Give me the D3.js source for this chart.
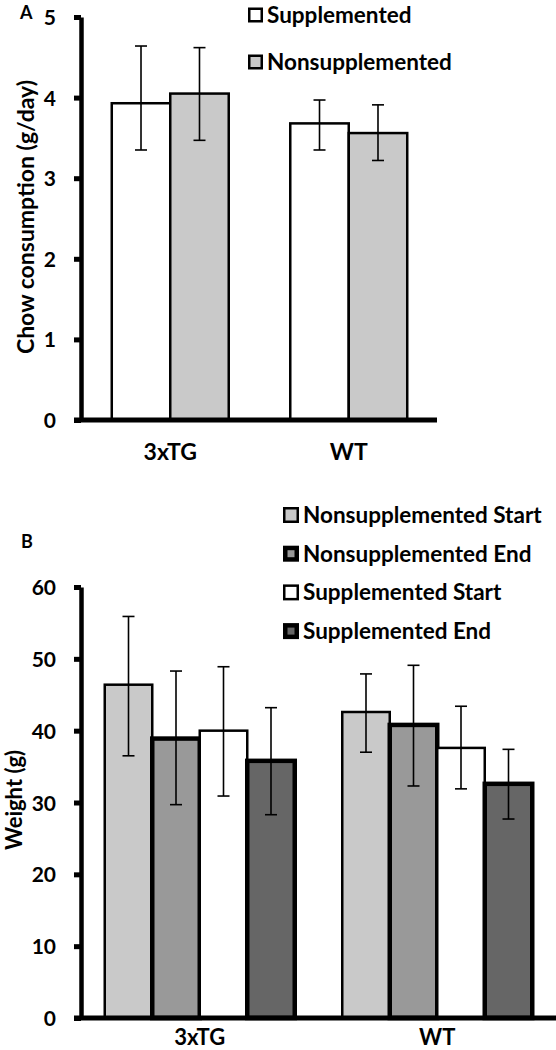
<!DOCTYPE html>
<html><head><meta charset="utf-8">
<script src="https://cdn.jsdelivr.net/npm/d3@7"></script>
<style>
html,body{margin:0;padding:0;background:#fff;}
svg{display:block;}
text{font-family:Lato, "Open Sans", sans-serif;font-weight:700;fill:#000;}
</style></head>
<body>
<script>
// ---------- Data: Panel A (chow consumption, g/day) ----------
const categoriesA = ["3xTG", "WT"];
const seriesA = ["Supplemented", "Nonsupplemented"];
const supplementedA = [3.93, 3.68];
const supplementedA_hi = [4.64, 3.97];
const supplementedA_lo = [3.35, 3.35];
const nonsupplementedA = [4.05, 3.56];
const nonsupplementedA_hi = [4.62, 3.91];
const nonsupplementedA_lo = [3.47, 3.22];
const ticksA = [0, 1, 2, 3, 4, 5];

// ---------- Data: Panel B (weight, g) ----------
const categoriesB = ["3xTG", "WT"];
const seriesB = ["Nonsupplemented Start", "Nonsupplemented End", "Supplemented Start", "Supplemented End"];
const nsStartB = [46.4, 42.6];
const nsStartB_hi = [55.9, 47.9];
const nsStartB_lo = [36.5, 37.0];
const nsEndB = [38.9, 40.8];
const nsEndB_hi = [48.3, 49.1];
const nsEndB_lo = [29.7, 32.3];
const sStartB = [40.0, 37.6];
const sStartB_hi = [48.9, 43.4];
const sStartB_lo = [30.9, 31.9];
const sEndB = [35.8, 32.6];
const sEndB_hi = [43.2, 37.4];
const sEndB_lo = [28.3, 27.7];
const ticksB = [0, 10, 20, 30, 40, 50, 60];

const W = 556, H = 1050;
const svg = d3.select("body").append("svg").attr("width", W).attr("height", H);

function panel(cfg) {
  const g = svg.append("g");
  const y = d3.scaleLinear().domain(cfg.domain).range(cfg.yRange);
  const x0 = d3.scaleBand().domain(cfg.categories).range(cfg.xRange).padding(0);
  const x1 = d3.scaleBand().domain(cfg.series.map(s => s.name))
    .range([0, x0.bandwidth()]).paddingInner(0).paddingOuter(cfg.outerPad);

  const rows = [];
  cfg.series.forEach(s => {
    cfg.categories.forEach((c, i) => {
      rows.push({cat: c, s: s, v: s.values[i], hi: s.hi[i], lo: s.lo[i]});
    });
  });

  // bars
  g.selectAll("rect.bar").data(rows).join("rect")
    .attr("class", "bar")
    .attr("x", d => x0(d.cat) + x1(d.s.name))
    .attr("y", d => y(d.v))
    .attr("width", x1.bandwidth())
    .attr("height", d => y(0) - y(d.v))
    .attr("fill", d => d.s.fill)
    .attr("stroke", "#000")
    .attr("stroke-width", d => d.s.sw);

  // error bars
  const cap = cfg.cap;
  const eb = g.selectAll("g.eb").data(rows).join("g").attr("class", "eb")
    .attr("transform", d => `translate(${x0(d.cat) + x1(d.s.name) + x1.bandwidth() / 2},0)`);
  eb.append("line").attr("x1", 0).attr("x2", 0)
    .attr("y1", d => y(d.hi)).attr("y2", d => y(d.lo))
    .attr("stroke", "#000").attr("stroke-width", 1.6);
  eb.append("line").attr("x1", -cap / 2).attr("x2", cap / 2)
    .attr("y1", d => y(d.hi)).attr("y2", d => y(d.hi))
    .attr("stroke", "#000").attr("stroke-width", 1.6);
  eb.append("line").attr("x1", -cap / 2).attr("x2", cap / 2)
    .attr("y1", d => y(d.lo)).attr("y2", d => y(d.lo))
    .attr("stroke", "#000").attr("stroke-width", 1.6);

  // y axis
  const ax = g.append("g").attr("transform", `translate(${cfg.xRange[0]},0)`)
    .call(d3.axisLeft(y).tickValues(cfg.ticks).tickSize(7).tickSizeOuter(0).tickPadding(18).tickFormat(d3.format("d")));
  ax.select(".domain").attr("stroke", "#000").attr("stroke-width", 4.5);
  ax.selectAll(".tick line").attr("stroke", "#000").attr("stroke-width", 5);
  ax.selectAll(".tick text").attr("font-family", "Lato").attr("font-weight", 700)
    .attr("font-size", cfg.tickFont).attr("fill", "#000").attr("dy", "0.36em");

  // x axis baseline
  g.append("line")
    .attr("x1", cfg.xRange[0] - 7).attr("x2", cfg.xEnd)
    .attr("y1", y(0)).attr("y2", y(0))
    .attr("stroke", "#000").attr("stroke-width", 5);

  // category labels
  g.selectAll("text.cat").data(cfg.categories).join("text")
    .attr("class", "cat")
    .attr("x", d => x0(d) + x0.bandwidth() / 2)
    .attr("y", cfg.catY)
    .attr("text-anchor", "middle")
    .attr("font-size", cfg.catFont)
    .text(d => d);

  // y title
  g.append("text")
    .attr("transform", `translate(${cfg.titleX},${cfg.titleY}) rotate(-90)`)
    .attr("text-anchor", "middle")
    .attr("font-size", cfg.titleFont)
    .text(cfg.title);

  // panel letter
  g.append("text").attr("x", cfg.letterX).attr("y", cfg.letterY)
    .attr("font-family", "Liberation Sans, Arial, sans-serif")
    .attr("font-size", 18).text(cfg.letter);

  // legend
  const lg = g.selectAll("g.leg").data(cfg.series).join("g").attr("class", "leg")
    .attr("transform", (d, i) => `translate(${cfg.legX},${cfg.legY + i * cfg.legStep})`);
  lg.append("rect")
    .attr("x", d => d.legSw / 2).attr("y", d => -cfg.legBox / 2 + d.legSw / 2)
    .attr("width", d => cfg.legBox - d.legSw).attr("height", d => cfg.legBox - d.legSw)
    .attr("fill", d => d.fill).attr("stroke", "#000").attr("stroke-width", d => d.legSw);
  lg.append("text").attr("x", cfg.legBox + 4).attr("y", 0).attr("dy", "0.35em")
    .attr("font-size", cfg.legFont).text(d => d.name);
}

panel({
  categories: categoriesA,
  series: [
    {name: seriesA[0], values: supplementedA, hi: supplementedA_hi, lo: supplementedA_lo, fill: "#ffffff", sw: 2.5, legSw: 2.5},
    {name: seriesA[1], values: nonsupplementedA, hi: nonsupplementedA_hi, lo: nonsupplementedA_lo, fill: "#c9c9c9", sw: 2.5, legSw: 2.5}
  ],
  domain: [0, 5], yRange: [420, 17], xRange: [81, 438], xEnd: 437, outerPad: 0.526,
  ticks: ticksA, tickFont: 21, cap: 12,
  catY: 460, catFont: 23,
  title: "Chow consumption (g/day)", titleX: 34, titleY: 217, titleFont: 23,
  letter: "A", letterX: 20, letterY: 19,
  legX: 248, legY: 15, legStep: 47, legBox: 15, legFont: 22.5
});

panel({
  categories: categoriesB,
  series: [
    {name: seriesB[0], values: nsStartB, hi: nsStartB_hi, lo: nsStartB_lo, fill: "#c9c9c9", sw: 2.5, legSw: 2.5},
    {name: seriesB[1], values: nsEndB, hi: nsEndB_hi, lo: nsEndB_lo, fill: "#999999", sw: 4.5, legSw: 4.5},
    {name: seriesB[2], values: sStartB, hi: sStartB_hi, lo: sStartB_lo, fill: "#ffffff", sw: 2.5, legSw: 2.5},
    {name: seriesB[3], values: sEndB, hi: sEndB_hi, lo: sEndB_lo, fill: "#666666", sw: 4.5, legSw: 4.5}
  ],
  domain: [0, 60], yRange: [1018, 587], xRange: [81, 556], xEnd: 556, outerPad: 0.5,
  ticks: ticksB, tickFont: 21, cap: 12,
  catY: 1045, catFont: 22,
  title: "Weight (g)", titleX: 22, titleY: 800, titleFont: 22,
  letter: "B", letterX: 21, letterY: 548,
  legX: 283, legY: 515, legStep: 38.7, legBox: 16, legFont: 22.5
});
</script>
</body></html>
